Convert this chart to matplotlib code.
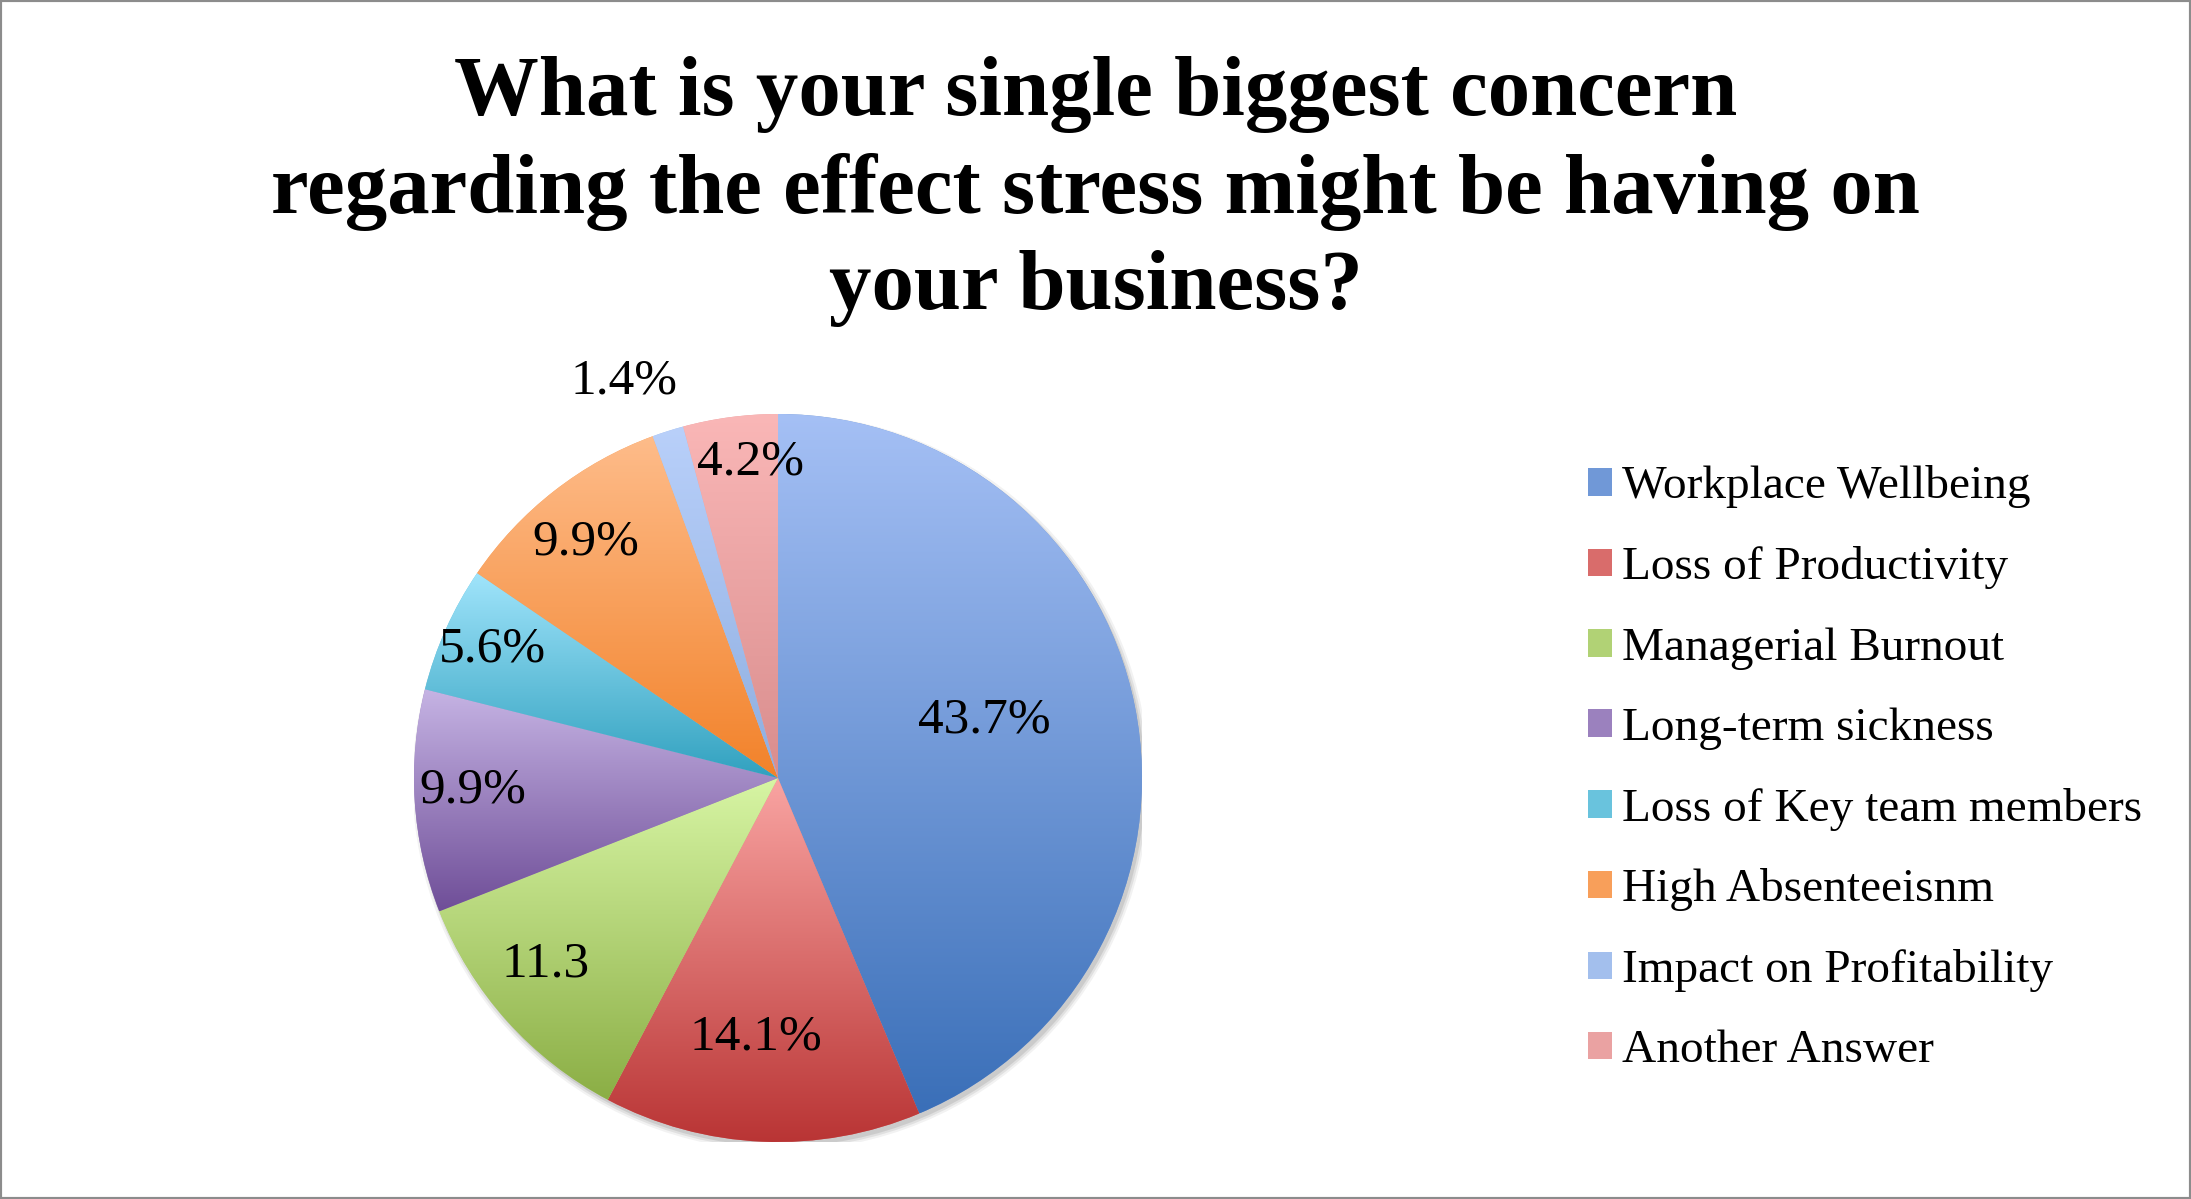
import matplotlib
matplotlib.use("Agg")
import matplotlib.pyplot as plt
import numpy as np
from matplotlib.colors import to_rgb
from matplotlib.patches import Patch, Rectangle, Circle

plt.rcParams['font.family'] = ['Liberation Serif', 'DejaVu Serif']

title = "What is your single biggest concern\nregarding the effect stress might be having on\nyour business?"

categories = ["Workplace Wellbeing", "Loss of Productivity", "Managerial Burnout",
              "Long-term sickness", "Loss of Key team members", "High Absenteeisnm",
              "Impact on Profitability", "Another Answer"]
values = [43.7, 14.1, 11.3, 9.9, 5.6, 9.9, 1.4, 4.2]
value_labels = ["43.7%", "14.1%", "11.3", "9.9%", "5.6%", "9.9%", "1.4%", "4.2%"]

# gradient colours, top -> bottom of each slice
top_colors = ["#a5c0f5", "#f9a4a2", "#d7f5a4", "#c6b4e4", "#a0e4fb", "#febc8a", "#b9d0fa", "#fab7b7"]
bottom_colors = ["#3a6fb8", "#b93434", "#8bae45", "#6f4e98", "#31a1bf", "#f2822a", "#8eaee0", "#d98d8d"]
# data label placement: radial distance (fraction of radius) and angle nudge (deg)
label_dist = [0.59, 0.715, 0.82, 0.84, 0.86, 0.835, 1.17, 0.87]
label_nudge = [4.3, -2.4, -3.1, -1.3, -0.2, 1.2, 3.6, -2.6]

W, H = 2191, 1199
fig = plt.figure(figsize=(W / 100, H / 100), dpi=100)

# pie centre and radius in pixels
cx, cy, r = 778, 778, 364
ax = fig.add_axes([(cx - r) / W, (H - cy - r) / H, 2 * r / W, 2 * r / H])

mid_colors = [tuple((np.array(to_rgb(a)) + np.array(to_rgb(b))) / 2) for a, b in zip(top_colors, bottom_colors)]

# soft shadow under the pie
for k, a in [(1.012, 0.05), (1.006, 0.07), (1.0, 0.09)]:
    ax.add_patch(Circle((0.008, -0.012), k, facecolor='black', edgecolor='none', alpha=a, zorder=0))

wedges, _ = ax.pie(values, colors=mid_colors, startangle=90, counterclock=False, radius=1,
                   wedgeprops=dict(linewidth=0, zorder=1))

# vertical gradient inside each slice
for w, c0, c1 in zip(wedges, top_colors, bottom_colors):
    verts = w.get_path().vertices
    x0, x1 = verts[:, 0].min(), verts[:, 0].max()
    y0, y1 = verts[:, 1].min(), verts[:, 1].max()
    t = np.linspace(0, 1, 256)[:, None, None]
    grad = (1 - t) * np.array(to_rgb(c0)) + t * np.array(to_rgb(c1))
    im = ax.imshow(grad, extent=(x0, x1, y0, y1), origin='upper', aspect='auto',
                   interpolation='bilinear', zorder=2)
    im.set_clip_path(w)

# data labels
for w, lab, d, nd in zip(wedges, value_labels, label_dist, label_nudge):
    ang = np.deg2rad((w.theta1 + w.theta2) / 2 + nd)
    ax.text(d * np.cos(ang), d * np.sin(ang), lab, ha='center', va='center',
            fontsize=37, zorder=5)

ax.set_xlim(-1, 1)
ax.set_ylim(-1, 1)
ax.set_aspect('equal')
ax.axis('off')

fig.text(0.5, 1 - 56 / H, title, ha='center', va='top', fontsize=61,
         fontweight='bold', linespacing=1.33)

handles = [Patch(facecolor=c, edgecolor='none') for c in mid_colors]
fig.legend(handles, categories, loc='upper left', bbox_to_anchor=(1545 / W, 1 - 423 / H),
           frameon=False, fontsize=34, handlelength=0.52, handleheight=0.52,
           handletextpad=0.22, labelspacing=0.80)

fig.patches.append(Rectangle((0, 0), 1, 1, transform=fig.transFigure, fill=False,
                             edgecolor='#8c8c8c', linewidth=3))

fig.savefig("out.png", dpi=100)
